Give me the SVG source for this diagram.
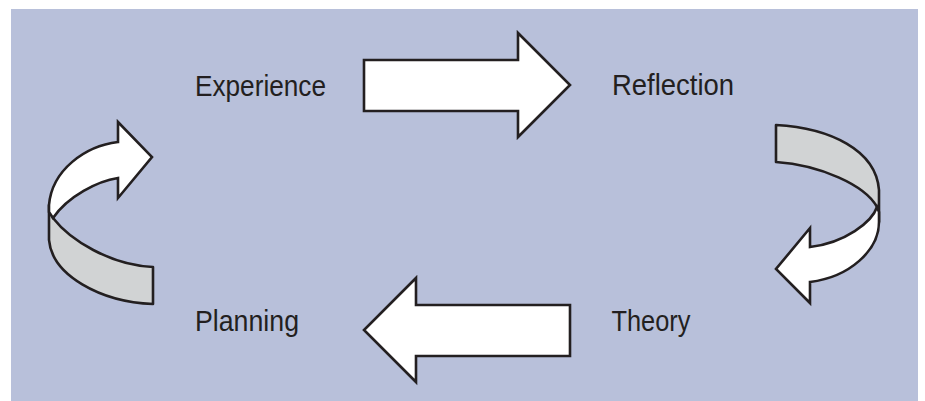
<svg xmlns="http://www.w3.org/2000/svg" width="925" height="401" viewBox="0 0 925 401">
<style>
.lbl{font-family:"Liberation Sans",Arial,sans-serif;font-size:29px;fill:#231F20}
.w{fill:#FFFFFF;stroke:#231F20;stroke-width:2.6;stroke-linejoin:miter}
.g{fill:#D1D3D4;stroke:#231F20;stroke-width:2.6;stroke-linejoin:round}
</style>
<rect x="11" y="9" width="907" height="392" fill="#B8C0DA"/>
<g id="experience"><text class="lbl" x="195" y="95.5" textLength="131" lengthAdjust="spacingAndGlyphs">Experience</text></g>
<g id="reflection"><text class="lbl" x="612" y="94.5" textLength="122" lengthAdjust="spacingAndGlyphs">Reflection</text></g>
<g id="theory"><text class="lbl" x="611.5" y="330.5" textLength="79" lengthAdjust="spacingAndGlyphs">Theory</text></g>
<g id="planning"><text class="lbl" x="195" y="330.5" textLength="104" lengthAdjust="spacingAndGlyphs">Planning</text></g>
<g id="connectors">
<path class="w" d="M364,60 L518,60 L518,33 L570,85 L518,137 L518,111 L364,111 Z"/>
<path class="w" d="M570,305 L416,305 L416,278 L364,330 L416,382 L416,356 L570,356 Z"/>
<path class="g" d="M53,218 C70,240 110,265 153,267 L153,304 C100,302 52,275 49,240 L49,205 Z"/>
<path class="w" d="M118,142 L118,122 L152,157 L118,198 L118,178 C98,181 68,196 53,218 L49,212 L49,205 C52,170 85,146 118,142 Z"/>
<path class="g" d="M776,125 C830,128 876,150 879,190 L879,222 L877,207 C865,185 820,165 776,162 Z"/>
<path class="w" d="M877,207 L879,212 L879,222 C879,250 850,277 810,282 L810,303 L776,269 L810,228 L810,247 C845,243 872,222 877,207 Z"/>
</g>
</svg>
